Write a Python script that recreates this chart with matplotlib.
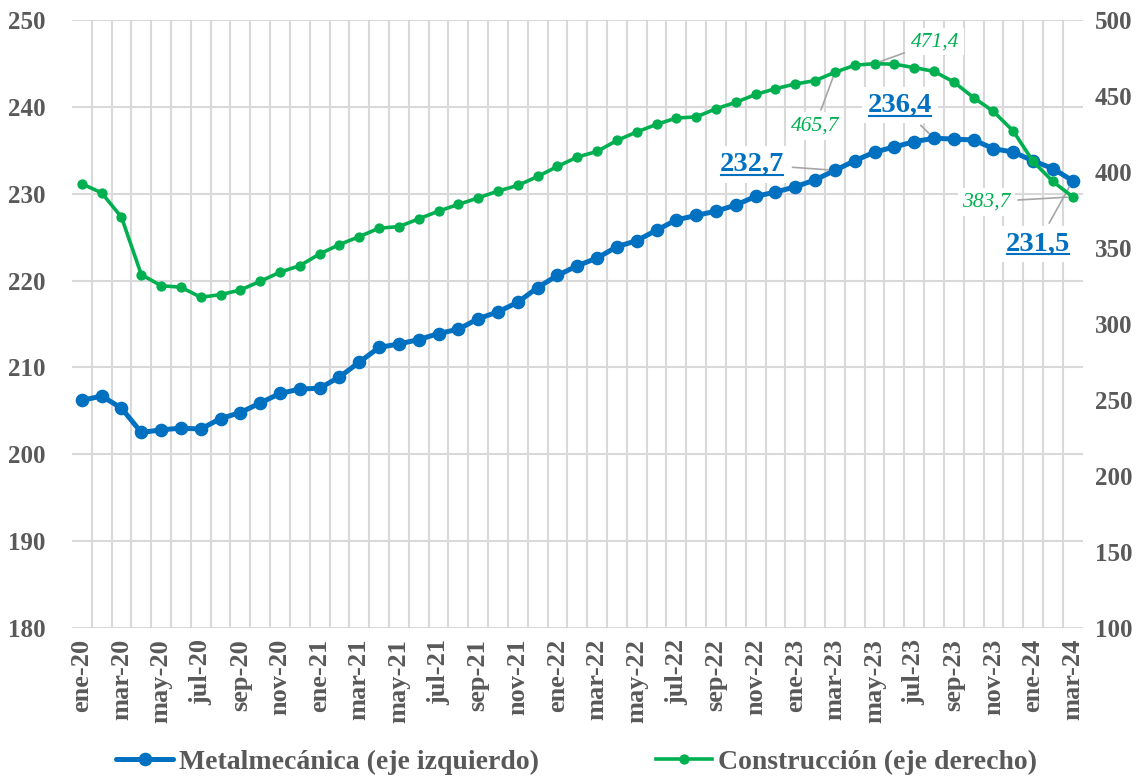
import matplotlib
matplotlib.use("Agg")
import matplotlib.pyplot as plt
from matplotlib.lines import Line2D
from matplotlib.text import Text
import numpy as np

# datos mensuales ene-20 .. mar-24
meses_abr = ["ene", "feb", "mar", "abr", "may", "jun", "jul", "ago", "sep", "oct", "nov", "dic"]
periodos = [f"{meses_abr[m]}-{str(a)[2:]}" for a in range(2020, 2025) for m in range(12)][:51]

metalmecanica = [206.2, 206.7, 205.3, 202.5, 202.8, 203.0, 202.9, 204.1, 204.8, 205.9,
                 207.0, 207.5, 207.6, 208.9, 210.6, 212.3, 212.7, 213.2, 213.9, 214.4,
                 215.6, 216.4, 217.5, 219.2, 220.6, 221.7, 222.6, 223.9, 224.6, 225.8,
                 227.0, 227.5, 228.0, 228.7, 229.7, 230.2, 230.8, 231.6, 232.7, 233.8,
                 234.8, 235.4, 236.0, 236.4, 236.3, 236.2, 235.2, 234.8, 233.8, 232.9, 231.5]
construccion = [392.3, 386.3, 370.3, 332.5, 325.2, 324.2, 317.6, 319.3, 322.4, 328.1,
                334.1, 338.4, 346.1, 352.3, 357.5, 363.1, 364.1, 369.2, 374.3, 378.7,
                383.0, 387.5, 391.2, 397.1, 403.7, 409.9, 413.6, 420.8, 426.4, 431.4,
                435.6, 436.3, 441.7, 445.9, 451.1, 454.9, 458.0, 460.2, 465.7, 470.3,
                471.4, 471.0, 468.8, 466.3, 459.3, 449.0, 439.9, 427.0, 407.0, 393.8, 383.7]

# etiquetas destacadas: (indice, offset en pixeles)
etiq_metal = [(38, (-83, 6)), (43, (-34, 33)), (50, (-35, -63))]
etiq_cons = [(38, (-20, -54)), (40, (61, 22)), (50, (-86, -5))]

AZUL = "#0070C0"
VERDE = "#00B050"
GRIS = "#595959"
GRID = "#D9D9D9"
FUENTE = "Liberation Serif"

plt.rcParams["font.family"] = FUENTE
plt.rcParams["font.weight"] = "bold"

fig = plt.figure(figsize=(11.42, 7.76), dpi=100)
ax = fig.add_axes([0.063, 0.191, 0.885, 0.783])
ax2 = ax.twinx()

x = np.arange(len(periodos))
ax.plot(x, metalmecanica, color=AZUL, lw=3.6, marker="o", ms=8.8,
        label="Metalmecánica (eje izquierdo)", solid_capstyle="round")
ax2.plot(x, construccion, color=VERDE, lw=2.6, marker="o", ms=6.4,
         label="Construcción (eje derecho)")

ax.set_xlim(-0.5, len(x) - 0.5)
ax.set_ylim(180, 250)
ax2.set_ylim(100, 500)
ax.set_yticks(np.arange(180, 251, 10))
ax2.set_yticks(np.arange(100, 501, 50))

ax.set_xticks(x[::2])
ax.set_xticklabels(periodos[::2], rotation=90)
ax.set_xticks(x[:-1] + 0.5, minor=True)
ax.grid(True, axis="y", color=GRID, lw=1.5)
ax.grid(True, axis="x", which="minor", color=GRID, lw=1.5)
ax.set_axisbelow(True)

for a in (ax, ax2):
    for s in a.spines.values():
        s.set_visible(False)
    a.tick_params(which="both", length=0, colors=GRIS, labelsize=18)
ax.tick_params(axis="x", pad=8, labelsize=19)
ax.tick_params(axis="y", pad=19)
ax2.tick_params(axis="y", pad=9)

# anotaciones
textos_azules = []
for i, off in etiq_metal:
    t = ax.annotate(f"{metalmecanica[i]:.1f}".replace(".", ","), xy=(i, metalmecanica[i]),
                    xytext=off, textcoords="offset pixels", ha="center", va="center",
                    color=AZUL, fontsize=20.5, fontweight="bold", zorder=5,
                    bbox=dict(boxstyle="square,pad=0.2", fc="white", ec="none"),
                    arrowprops=dict(arrowstyle="-", color="#A6A6A6", lw=1.2,
                                    shrinkA=2, shrinkB=5))
    textos_azules.append(t)
for i, off in etiq_cons:
    ax2.annotate(f"{construccion[i]:.1f}".replace(".", ","), xy=(i, construccion[i]),
                 xytext=off, textcoords="offset pixels", ha="center", va="center",
                 color=VERDE, fontsize=15.5, fontstyle="italic", fontweight="normal", zorder=5,
                 bbox=dict(boxstyle="square,pad=0.2", fc="white", ec="none"),
                 arrowprops=dict(arrowstyle="-", color="#A6A6A6", lw=1.2,
                                 shrinkA=2, shrinkB=4))

# subrayado de las etiquetas azules
fig.canvas.draw()
renderer = fig.canvas.get_renderer()
inv = fig.transFigure.inverted()
for t in textos_azules:
    bb = Text.get_window_extent(t, renderer)
    (x0, y0), (x1, _) = inv.transform([(bb.x0 + 1, bb.y0 + 2), (bb.x1 - 1, bb.y0)])
    fig.add_artist(Line2D([x0, x1], [y0, y0], color=AZUL, lw=1.5, transform=fig.transFigure,
                          zorder=10))

h1, l1 = ax.get_legend_handles_labels()
h2, l2 = ax2.get_legend_handles_labels()
leg = fig.legend(h1 + h2, l1 + l2, loc="center", bbox_to_anchor=(0.505, 0.018), ncol=2,
                 frameon=False, handlelength=2.05, columnspacing=4.2, handletextpad=0.2,
                 prop={"family": FUENTE, "weight": "bold", "size": 20})
for txt in leg.get_texts():
    txt.set_color(GRIS)

fig.savefig("out.png", dpi=100)
